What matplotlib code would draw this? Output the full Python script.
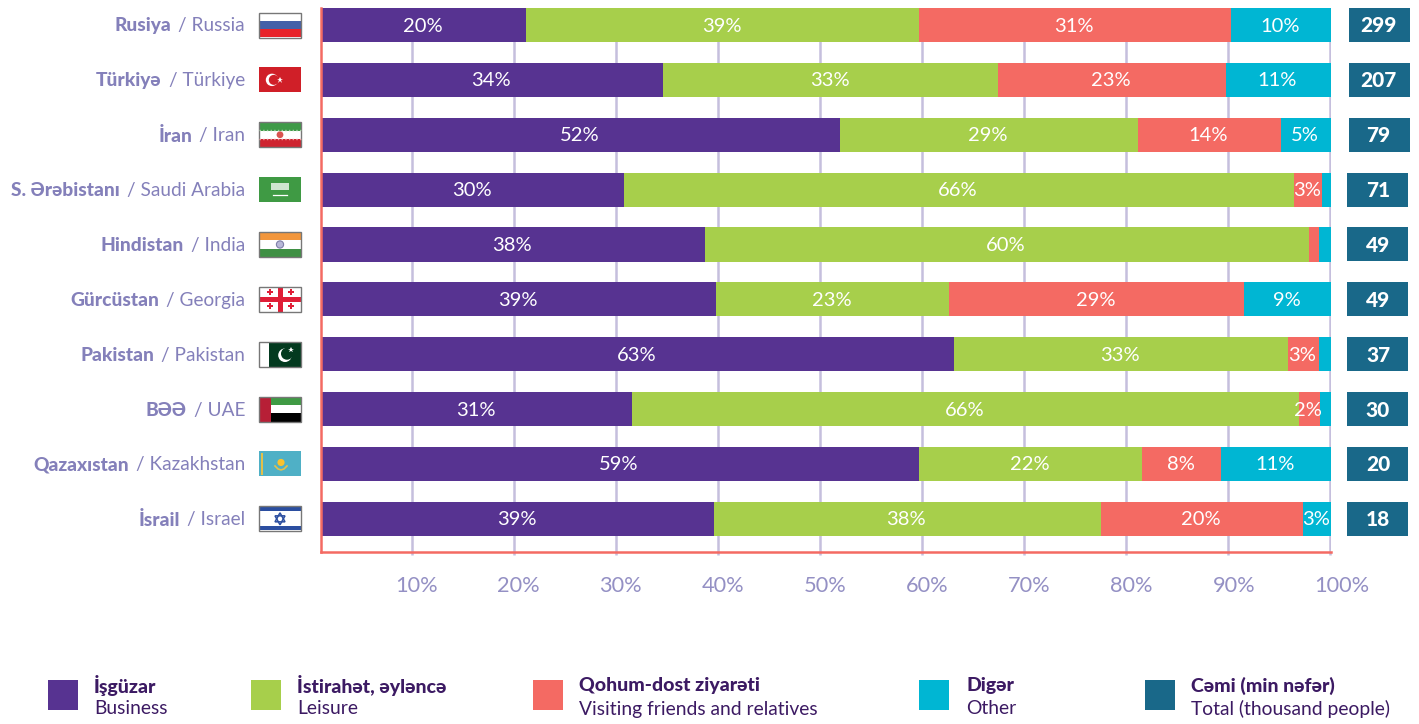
import matplotlib
matplotlib.use('Agg')
import matplotlib.pyplot as plt
from matplotlib.patches import Rectangle, Circle, Polygon

plt.rcParams['font.family'] = ['Lato', 'Noto Sans', 'DejaVu Sans']

countries_az = ['Rusiya', 'Türkiyə', 'İran', 'S. Ərəbistanı', 'Hindistan', 'Gürcüstan', 'Pakistan', 'BƏƏ', 'Qazaxıstan', 'İsrail']
countries_en = ['Russia', 'Türkiye', 'Iran', 'Saudi Arabia', 'India', 'Georgia', 'Pakistan', 'UAE', 'Kazakhstan', 'Israel']
totals = [299, 207, 79, 71, 49, 49, 37, 30, 20, 18]

# bar lengths as measured in the picture (they do not quite follow the printed labels)
business = [20.3, 33.9, 51.4, 30.0, 38.0, 39.1, 62.7, 30.8, 59.2, 38.9]
leisure = [38.9, 33.1, 29.5, 66.3, 59.8, 23.1, 33.0, 66.0, 22.1, 38.3]
friends = [30.9, 22.6, 14.1, 2.8, 1.0, 29.2, 3.1, 2.1, 7.8, 20.0]
other = [9.9, 10.4, 5.0, 0.9, 1.2, 8.6, 1.2, 1.1, 10.9, 2.8]

business_lab = ['20%', '34%', '52%', '30%', '38%', '39%', '63%', '31%', '59%', '39%']
leisure_lab = ['39%', '33%', '29%', '66%', '60%', '23%', '33%', '66%', '22%', '38%']
friends_lab = ['31%', '23%', '14%', '3%', '', '29%', '3%', '2%', '8%', '20%']
other_lab = ['10%', '11%', '5%', '', '', '9%', '', '', '11%', '3%']

ticks = [10, 20, 30, 40, 50, 60, 70, 80, 90, 100]
tick_shift = [5, 5, 5, 5, 5, 5, 5, 5, 6, 12]

legend_az = ['İşgüzar', 'İstirahət, əyləncə', 'Qohum-dost ziyarəti', 'Digər', 'Cəmi (min nəfər)']
legend_en = ['Business', 'Leisure', 'Visiting friends and relatives', 'Other', 'Total (thousand people)']

PURPLE = '#573391'
GREEN = '#A7CF4B'
RED = '#F46A63'
CYAN = '#00B6D3'
TEAL = '#196889'
LABEL = '#8480BA'
TICK = '#9490C4'
GRID = '#C5BFDD'
DARK = '#3C1A63'
EDGE = '#777777'

W, H = 1419, 724
fig = plt.figure(figsize=(W / 100, H / 100), dpi=100, facecolor='white')
box = [321 / W, (H - 552) / H, 1010 / W, 544 / H]

# gridlines sit on their own scale, offset from the bars
ax_grid = fig.add_axes(box, zorder=1)
ax_grid.set_xlim(1.13, 100.1)
ax_grid.set_ylim(0, 1)
ax_grid.set_yticks([])
ax_grid.set_xticks(ticks)
ax_grid.set_xticklabels([])
ax_grid.tick_params(axis='x', length=2.5, width=1.8, color=GRID)
ax_grid.grid(axis='x', color=GRID, linewidth=1.8)
for s in ax_grid.spines.values():
    s.set_visible(False)
for t, dx in zip(ticks, tick_shift):
    ax_grid.annotate(f'{t}%', xy=(t, 0), xycoords=('data', 'axes fraction'), xytext=(dx, -34),
                     textcoords='offset pixels', ha='center', va='center', fontsize=15.7, color=TICK)

ax = fig.add_axes(box, zorder=2)
ax.patch.set_visible(False)
rows = list(range(len(countries_az)))
left = [0.0] * len(rows)
series = [(business, business_lab, PURPLE), (leisure, leisure_lab, GREEN),
          (friends, friends_lab, RED), (other, other_lab, CYAN)]
for vals, labs, col in series:
    ax.barh(rows, vals, left=left, height=0.62, color=col, linewidth=0)
    for i in rows:
        if labs[i]:
            ax.annotate(labs[i], xy=(left[i] + vals[i] / 2, i), xytext=(-1, -1), textcoords='offset pixels',
                        ha='center', va='center', color='white', fontsize=14.5)
    left = [a + b for a, b in zip(left, vals)]
ax.set_xlim(0, 100)
ax.set_ylim(9.604, -0.31)
ax.set_xticks([])
ax.set_yticks([])
ax.spines['top'].set_visible(False)
ax.spines['right'].set_visible(False)
ax.spines['left'].set_color(RED)
ax.spines['bottom'].set_color(RED)
ax.spines['left'].set_linewidth(1.8)
ax.spines['bottom'].set_linewidth(1.8)

# everything outside the plot is placed in pixel coordinates
ov = fig.add_axes([0, 0, 1, 1], zorder=3)
ov.set_xlim(0, W)
ov.set_ylim(H, 0)
ov.axis('off')


def stripes(x, y, w, h, colors):
    sh = h / len(colors)
    for k, c in enumerate(colors):
        ov.add_patch(Rectangle((x, y + k * sh), w, sh, color=c, lw=0))


def draw_flag(name, cy):
    x, y, w, h = 259, cy - 12.5, 42, 25
    cx, mid = x + w / 2, cy
    border = True
    if name == 'Russia':
        stripes(x, y, w, h, ['white', '#4460A8', '#E8232A'])
    elif name == 'Türkiye':
        border = False
        ov.add_patch(Rectangle((x, y), w, h, color='#D01F28', lw=0))
        ov.add_patch(Circle((x + 13, mid), 6.2, color='white', lw=0))
        ov.add_patch(Circle((x + 14.8, mid), 5, color='#D01F28', lw=0))
        ov.plot([x + 21], [mid], marker='*', ms=5, color='white', mew=0)
    elif name == 'Iran':
        stripes(x, y, w, h, ['#3E9A47', 'white', '#CE2430'])
        ov.add_patch(Circle((cx, mid), 3.4, color='#D9534F', lw=0))
        ov.plot([x, x + w], [y + 8.2, y + 8.2], color='#A8CFA8', lw=1, ls=':')
        ov.plot([x, x + w], [y + 16.8, y + 16.8], color='#EBA0A0', lw=1, ls=':')
    elif name == 'Saudi Arabia':
        border = False
        ov.add_patch(Rectangle((x, y), w, h, color='#3F9A44', lw=0))
        ov.add_patch(Rectangle((cx - 9, mid - 7), 18, 7, color='#CFE5CF', lw=0))
        ov.plot([cx - 7, cx + 7], [mid + 5, mid + 5], color='white', lw=0.9)
    elif name == 'India':
        stripes(x, y, w, h, ['#F2963C', 'white', '#3F9044'])
        ov.add_patch(Circle((cx, mid), 3.6, fc='#B8B8D8', ec='#7F7FA8', lw=0.8))
    elif name == 'Georgia':
        ov.add_patch(Rectangle((x, y), w, h, color='white', lw=0))
        ov.add_patch(Rectangle((cx - 2.5, y), 5, h, color='#E01E37', lw=0))
        ov.add_patch(Rectangle((x, mid - 2.5), w, 5, color='#E01E37', lw=0))
        for fx, fy in [(x + 10.5, y + 5.5), (x + 31.5, y + 5.5), (x + 10.5, y + 19.5), (x + 31.5, y + 19.5)]:
            ov.plot([fx], [fy], marker='P', ms=5, color='#E01E37', mew=0)
    elif name == 'Pakistan':
        ov.add_patch(Rectangle((x, y), w, h, color='white', lw=0))
        ov.add_patch(Rectangle((x + 10, y), w - 10, h, color='#033A1F', lw=0))
        ov.add_patch(Circle((x + 26, mid + 1), 6.8, color='white', lw=0))
        ov.add_patch(Circle((x + 28, mid - 0.5), 6, color='#033A1F', lw=0))
        ov.plot([x + 32], [mid - 4], marker='*', ms=4, color='white', mew=0)
    elif name == 'UAE':
        stripes(x + 12, y, w - 12, h, ['#3F9A44', 'white', 'black'])
        ov.add_patch(Rectangle((x, y), 12, h, color='#B71F36', lw=0))
    elif name == 'Kazakhstan':
        border = False
        ov.add_patch(Rectangle((x, y), w, h, color='#4FB0C6', lw=0))
        ov.add_patch(Rectangle((x + 2, y + 1.5), 2, h - 3, color='#E3C04A', lw=0))
        ov.add_patch(Circle((cx + 1, mid - 1.5), 3.6, color='#F9C22E', lw=0))
        ov.plot([cx - 5, cx - 2, cx + 1, cx + 4, cx + 7], [mid + 2, mid + 5, mid + 6, mid + 5, mid + 2],
                color='#E3C04A', lw=1.2)
    elif name == 'Israel':
        ov.add_patch(Rectangle((x, y), w, h, color='white', lw=0))
        ov.add_patch(Rectangle((x, y + 1), w, 4, color='#2B4EA0', lw=0))
        ov.add_patch(Rectangle((x, y + h - 5), w, 4, color='#2B4EA0', lw=0))
        ov.add_patch(Polygon([(cx - 5, mid + 3), (cx + 5, mid + 3), (cx, mid - 6)], fill=False, ec='#2B4EA0', lw=1.1))
        ov.add_patch(Polygon([(cx - 5, mid - 3), (cx + 5, mid - 3), (cx, mid + 6)], fill=False, ec='#2B4EA0', lw=1.1))
    if border:
        ov.add_patch(Rectangle((x, y), w, h, fill=False, ec=EDGE, lw=1.0))


renderer = fig.canvas.get_renderer()
for i in rows:
    cy = 25 + 54.87 * i
    en = ov.text(245, cy + 1, f'/ {countries_en[i]}', ha='right', va='center', fontsize=13.7, color=LABEL)
    ext = en.get_window_extent(renderer)
    ov.text(ext.x0 - 7, cy + 1, countries_az[i], ha='right', va='center', fontsize=13.8, color=LABEL, fontweight='black')
    draw_flag(countries_en[i], cy)
    bx = 1349 if i < 3 else 1347
    ov.add_patch(Rectangle((bx, cy - 17), 61, 34, color=TEAL, lw=0))
    ov.text(1378, cy + 1, str(totals[i]), ha='center', va='center', fontsize=15, fontweight='black', color='white')

swatch_x = [48, 251, 533, 919, 1145]
text_x = [94, 297, 579, 966, 1191]
swatch_col = [PURPLE, GREEN, RED, CYAN, TEAL]
for k in range(5):
    ov.add_patch(Rectangle((swatch_x[k], 680), 30, 30, color=swatch_col[k], lw=0))
    ov.text(text_x[k], 686, legend_az[k], ha='left', va='center', fontsize=14, fontweight='black', color=DARK)
    ov.text(text_x[k], 709, legend_en[k], ha='left', va='center', fontsize=13.9, color=DARK)

fig.savefig('out.png', dpi=100)
